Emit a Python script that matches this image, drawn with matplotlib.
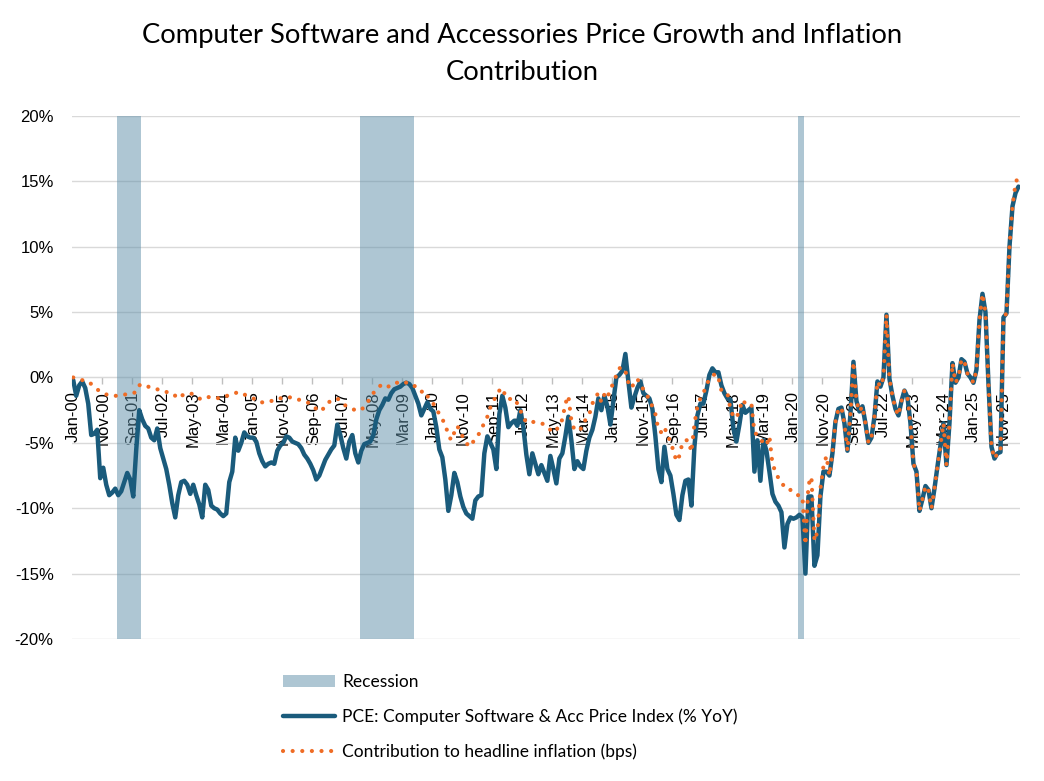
import matplotlib
matplotlib.use("Agg")
import matplotlib.pyplot as plt
import numpy as np
import pandas as pd

# monthly data, Jan-2000 onward (one row per year)
start_month = "2000-01"

pce_yoy = [
    -0.2, -1.4, -0.6, -0.3, -0.8, -2.0, -4.4, -4.3, -4.0, -7.7, -6.9, -8.2,      # 2000
    -9.0, -8.8, -8.5, -9.0, -8.7, -8.0, -7.3, -7.8, -9.1, -5.5, -2.5, -3.2,      # 2001
    -3.7, -3.9, -4.6, -4.8, -3.9, -5.4, -6.2, -7.0, -8.2, -9.6, -10.7, -9.0,     # 2002
    -8.0, -7.9, -8.2, -8.9, -8.2, -9.0, -9.7, -10.7, -8.2, -8.6, -9.8, -10.0,    # 2003
    -10.1, -10.4, -10.6, -10.4, -8.0, -7.2, -4.6, -5.6, -5.0, -4.2, -4.5, -4.6,  # 2004
    -4.6, -4.9, -5.8, -6.4, -6.8, -6.6, -6.5, -6.6, -5.6, -5.2, -5.0, -4.5,      # 2005
    -4.6, -4.9, -5.0, -5.1, -5.4, -5.9, -6.2, -6.6, -7.1, -7.8, -7.5, -6.9,      # 2006
    -6.3, -5.9, -5.5, -5.2, -3.6, -4.4, -5.4, -6.2, -4.9, -4.4, -5.8, -6.5,      # 2007
    -5.6, -5.1, -5.0, -4.9, -4.4, -3.2, -2.5, -2.1, -1.6, -1.7, -1.2, -0.9,      # 2008
    -0.8, -0.7, -0.5, -0.4, -0.5, -0.8, -1.4, -2.0, -2.9, -2.4, -1.9, -2.4,      # 2009
    -2.6, -3.8, -5.5, -6.1, -7.8, -10.2, -9.0, -7.3, -8.0, -9.1, -9.9, -10.4,    # 2010
    -10.6, -10.8, -9.4, -9.1, -9.0, -5.8, -4.5, -5.0, -5.5, -7.0, -2.8, -1.4,    # 2011
    -2.3, -3.8, -3.5, -3.3, -3.7, -2.5, -3.8, -5.9, -7.4, -5.8, -6.6, -7.4,      # 2012
    -6.7, -7.3, -7.9, -6.0, -7.0, -8.1, -6.2, -5.8, -4.5, -3.0, -4.8, -7.0,      # 2013
    -6.4, -6.8, -7.0, -5.6, -4.6, -4.0, -3.0, -1.6, -2.5, -1.4, -2.2, -3.6,      # 2014
    -1.8, 0.0, 0.2, 0.5, 1.8, -0.3, -2.3, -1.5, -0.8, -0.3, -1.2, -1.4,          # 2015
    -1.6, -2.4, -4.5, -7.0, -8.0, -5.3, -7.0, -7.5, -8.9, -10.5, -10.9, -9.0,    # 2016
    -7.9, -7.8, -9.8, -5.3, -2.9, -2.0, -2.0, -1.0, 0.2, 0.7, 0.4, 0.4,          # 2017
    -0.6, -1.2, -1.6, -1.7, -3.9, -4.9, -3.6, -2.1, -2.7, -2.5, -2.3, -7.2,      # 2018
    -4.8, -7.9, -4.8, -5.6, -7.2, -8.9, -9.5, -9.8, -10.3, -13.0, -11.2, -10.7,  # 2019
    -10.8, -10.7, -10.5, -10.7, -15.0, -9.1, -9.1, -14.4, -13.6, -9.1, -7.2, -7.2,  # 2020
    -7.5, -5.8, -3.4, -2.4, -2.3, -3.5, -5.6, -2.8, 1.2, -1.8, -2.6, -2.2,       # 2021
    -3.5, -5.0, -4.6, -3.0, -0.3, -0.7, 0.0, 4.8, -0.1, -1.4, -2.4, -2.9,        # 2022
    -1.8, -1.0, -1.5, -3.5, -6.6, -7.2, -10.2, -9.3, -8.3, -8.6, -10.0, -8.5,    # 2023
    -6.8, -5.2, -3.5, -6.7, -3.5, 1.1, -0.4, 0.0, 1.4, 1.2, 0.3, 0.0,            # 2024
    -0.4, 0.6, 4.4, 6.4, 5.0, -0.5, -5.3, -6.2, -5.8, -5.7, 4.6, 4.9,            # 2025
    10.0, 13.1, 14.1, 14.6,                                                      # 2026
]

contribution = [
    0.0, -0.1, -0.2, -0.2, -0.3, -0.3, -0.5, -0.7, -0.9, -1.1, -1.2, -1.3,       # 2000
    -1.3, -1.4, -1.4, -1.4, -1.4, -1.3, -1.3, -1.2, -1.2, -1.1, -0.6, -0.5,      # 2001
    -0.6, -0.7, -0.8, -0.9, -0.9, -1.0, -1.1, -1.1, -1.2, -1.2, -1.4, -1.6,      # 2002
    -1.4, -1.3, -1.3, -1.2, -1.3, -1.5, -1.6, -1.7, -1.6, -1.5, -1.5, -1.6,      # 2003
    -1.6, -1.5, -1.5, -1.4, -1.4, -1.3, -1.2, -1.1, -1.2, -1.3, -1.4, -1.5,      # 2004
    -1.6, -1.7, -1.9, -1.9, -1.9, -1.8, -1.8, -1.7, -1.6, -1.6, -1.5, -1.5,      # 2005
    -1.5, -1.6, -1.6, -1.7, -1.7, -1.8, -1.9, -2.0, -2.2, -2.4, -2.6, -2.5,      # 2006
    -2.1, -1.9, -1.8, -1.7, -1.6, -1.8, -2.0, -2.2, -2.3, -2.4, -2.5, -2.5,      # 2007
    -2.5, -2.2, -1.9, -1.6, -1.2, -0.9, -0.7, -0.5, -0.6, -0.7, -0.5, -0.4,      # 2008
    -0.4, -0.3, -0.3, -0.4, -0.4, -0.5, -0.7, -1.0, -1.1, -1.0, -1.4, -1.8,      # 2009
    -2.0, -2.4, -2.8, -3.2, -3.6, -4.4, -4.8, -4.2, -3.7, -4.2, -4.6, -5.0,      # 2010
    -5.3, -5.0, -4.7, -4.4, -3.9, -3.5, -3.0, -2.3, -1.8, -1.4, -1.0, -0.8,      # 2011
    -1.4, -1.7, -1.6, -1.6, -2.0, -2.5, -3.1, -3.4, -3.5, -3.4, -3.4, -3.5,      # 2012
    -3.5, -3.6, -3.8, -4.0, -4.2, -4.0, -3.7, -3.2, -2.0, -1.4, -3.3, -4.0,      # 2013
    -4.0, -4.0, -3.4, -3.2, -2.8, -2.0, -1.5, -1.2, -1.9, -1.3, -1.6, -0.8,      # 2014
    -0.5, 0.2, 0.7, 0.8, 0.5, -0.4, -0.8, -0.4, -0.1, -0.6, -0.9, -1.2,          # 2015
    -1.8, -2.2, -2.8, -4.0, -4.2, -3.8, -4.4, -4.9, -5.6, -6.4, -6.0, -5.0,      # 2016
    -4.8, -4.8, -5.7, -3.6, -2.2, -1.6, -1.2, -0.6, -0.1, 0.1, 0.3, 0.0,         # 2017
    -1.0, -1.1, -1.2, -2.4, -3.0, -3.1, -2.5, -1.7, -2.0, -2.0, -2.0, -4.2,      # 2018
    -4.4, -4.7, -5.0, -5.2, -4.5, -6.6, -7.2, -7.7, -8.1, -8.3, -8.6, -8.6,      # 2019
    -8.8, -9.0, -9.0, -9.1, -12.8, -8.2, -7.6, -12.5, -11.8, -8.5, -6.8, -6.0,   # 2020
    -7.5, -5.8, -3.4, -2.4, -2.3, -3.5, -5.6, -2.8, 1.2, -1.8, -2.6, -2.2,       # 2021
    -3.5, -5.0, -4.6, -3.0, -0.3, -0.7, 0.0, 4.8, -0.1, -1.4, -2.4, -2.9,        # 2022
    -1.8, -1.0, -1.5, -3.5, -6.6, -7.2, -10.2, -9.3, -8.3, -8.6, -10.0, -8.5,    # 2023
    -6.8, -5.2, -3.5, -6.7, -3.5, 1.1, -0.4, 0.0, 1.4, 1.2, 0.3, 0.0,            # 2024
    -0.4, 0.6, 4.4, 6.4, 5.0, -0.5, -5.3, -6.2, -5.8, -5.7, 4.6, 4.9,            # 2025
    10.0, 13.1, 14.8, 15.5,                                                      # 2026
]

# recession months (first, last)
recessions = [("2001-04", "2001-11"), ("2008-01", "2009-06"), ("2020-03", "2020-04")]

title = "Computer Software and Accessories Price Growth and Inflation\nContribution"
label_rec = "Recession"
label_pce = "PCE: Computer Software & Acc Price Index (% YoY)"
label_contrib = "Contribution to headline inflation (bps)"

months = pd.period_range(start_month, periods=len(pce_yoy), freq="M")
x = np.arange(len(months))
month_labels = [m.strftime("%b-%y") for m in months]

rec_flag = np.zeros(len(months), dtype=bool)
for a, b in recessions:
    rec_flag |= (months >= pd.Period(a, "M")) & (months <= pd.Period(b, "M"))

fig = plt.figure(figsize=(10.44, 7.81), dpi=100)
ax = fig.add_axes([0.0687, 0.1818, 0.9083, 0.6697])

bars = ax.bar(x[rec_flag], 40, bottom=-20, width=1.0, color="#5e8fa8", alpha=0.5,
              linewidth=0, label=label_rec, zorder=2)
line_pce, = ax.plot(x, pce_yoy, color="#1a5b7c", lw=3.2, solid_capstyle="round",
                    solid_joinstyle="round", label=label_pce, zorder=3)
line_con, = ax.plot(x, contribution, color="#ef6c25", lw=3.0,
                    linestyle=(0, (0.01, 2.3)), dash_capstyle="round",
                    label=label_contrib, zorder=4)

# spines first: moving a spine resets the tick settings
for s in ["top", "right", "left"]:
    ax.spines[s].set_visible(False)
ax.spines["bottom"].set_position(("data", 0))
ax.spines["bottom"].set_color("#d9d9d9")
ax.spines["bottom"].set_zorder(1)

ax.set_xlim(-0.5, len(x) - 0.5)
ax.set_ylim(-20, 20)
ax.set_yticks(range(-20, 21, 5))
ax.set_yticklabels([f"{v}%" for v in range(-20, 21, 5)],
                   fontsize=12, family="Liberation Sans")
ax.tick_params(axis="y", length=0, pad=13)
ax.yaxis.grid(True, color="#d9d9d9", lw=1, zorder=1)

# category axis sits on the 0% line
ax.set_xticks(x[::10])
ax.set_xticklabels(month_labels[::10], rotation=90, fontsize=12,
                   family="Liberation Sans", va="top", ha="center")
ax.set_xticks(x[::10] - 0.5, minor=True)
ax.tick_params(axis="x", which="major", length=0, pad=10)
ax.tick_params(axis="x", which="minor", length=5, color="#bfbfbf", width=1)

fig.text(0.5, 1 - 54 / 781, title, ha="center", va="center", fontsize=19.7,
         family="Lato", linespacing=1.55)

fig.legend(handles=[bars, line_pce, line_con],
           loc="upper left", bbox_to_anchor=(283 / 1044, 1 - 674 / 781),
           frameon=False, prop={"family": "Lato", "size": 12.5},
           handlelength=3.0, handletextpad=0.4, labelspacing=1.05, borderpad=0,
           borderaxespad=0)

fig.savefig("out.png", dpi=100)
